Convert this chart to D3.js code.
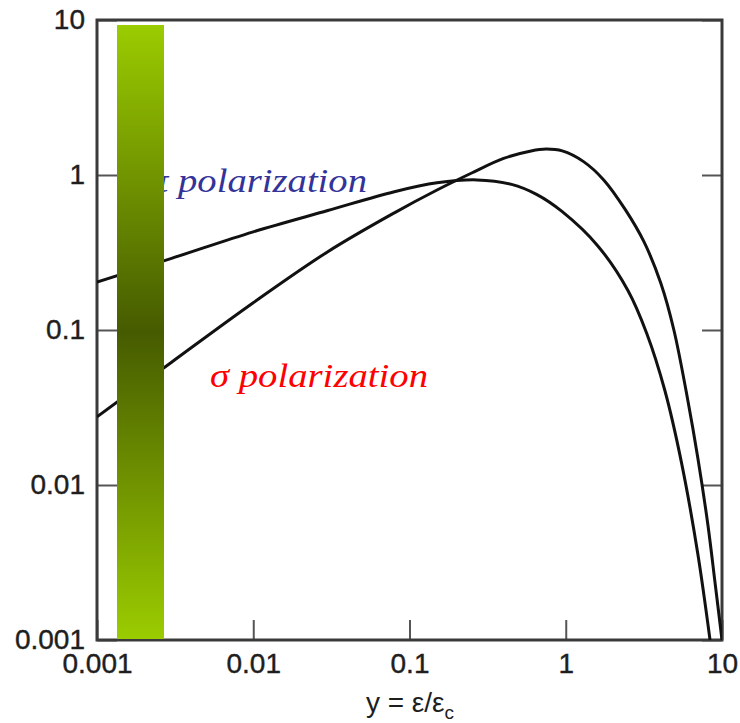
<!DOCTYPE html>
<html>
<head>
<meta charset="utf-8">
<script src="https://cdn.jsdelivr.net/npm/d3@7"></script>
<style>
  html, body { margin: 0; padding: 0; background: #fff; }
  svg { display: block; }
</style>
</head>
<body>
<svg id="chart" width="740" height="723"></svg>
<script>
// Photon energy y = ε/εc and the two polarization spectra (log-log)
const piX   = [0.001, 0.003, 0.01, 0.03, 0.08, 0.15, 0.27, 0.45, 0.65, 0.95, 1.6, 2.5, 3.3, 4.3, 5.5, 7, 8.5];
const piY   = [0.204, 0.29, 0.43, 0.59, 0.78, 0.89, 0.93, 0.87, 0.75, 0.58, 0.35, 0.18, 0.095, 0.041, 0.014, 0.0036, 0.0009];

const sigmaX = [0.001, 0.003, 0.01, 0.03, 0.08, 0.15, 0.25, 0.4, 0.6, 0.75, 0.95, 1.3, 1.75, 2.4, 3.17, 4.06, 4.92, 6.05, 7, 8.13, 9, 10];
const sigmaY = [0.0275, 0.062, 0.15, 0.32, 0.57, 0.80, 1.03, 1.28, 1.43, 1.47, 1.43, 1.22, 0.93, 0.60, 0.37, 0.20, 0.10, 0.035, 0.015, 0.0055, 0.0024, 0.001];

const tickValues = [0.001, 0.01, 0.1, 1, 10];
const tickLabels = ["0.001", "0.01", "0.1", "1", "10"];

const svg = d3.select("#chart");
const plot = { left: 97, right: 722, top: 20, bottom: 640 };

const x = d3.scaleLog().domain([0.001, 10]).range([plot.left, plot.right]);
const y = d3.scaleLog().domain([0.001, 10]).range([plot.bottom, plot.top]);

const fmt = (d) => tickLabels[tickValues.indexOf(d)];

// Axes with inward ticks
const gx = svg.append("g")
  .attr("transform", `translate(0,${plot.bottom})`)
  .call(d3.axisBottom(x).tickValues(tickValues).tickFormat(fmt)
    .tickSizeInner(-20).tickSizeOuter(0).tickPadding(13));

const gy = svg.append("g")
  .attr("transform", `translate(${plot.left},0)`)
  .call(d3.axisLeft(y).tickValues(tickValues).tickFormat(fmt)
    .tickSizeInner(-20).tickSizeOuter(0).tickPadding(12));

const gr = svg.append("g")
  .attr("transform", `translate(${plot.right},0)`)
  .call(d3.axisRight(y).tickValues(tickValues).tickFormat(() => "")
    .tickSizeInner(-20).tickSizeOuter(0));

[gx, gy, gr].forEach(g => {
  g.select(".domain").remove();
  g.selectAll(".tick line").attr("stroke", "#555").attr("stroke-width", 2);
  g.selectAll(".tick text")
    .attr("font-family", "'Liberation Sans', Arial, sans-serif")
    .attr("font-size", 28)
    .attr("fill", "#1e1e1e")
    .attr("stroke", "#1e1e1e").attr("stroke-width", 0.4);
});

// Plot frame
svg.append("rect")
  .attr("x", plot.left).attr("y", plot.top)
  .attr("width", plot.right - plot.left).attr("height", plot.bottom - plot.top)
  .attr("fill", "none").attr("stroke", "#3a3a3a").attr("stroke-width", 3);

// Axis title
const title = svg.append("text")
  .attr("x", 410).attr("y", 712)
  .attr("text-anchor", "middle")
  .attr("font-family", "'Liberation Sans', Arial, sans-serif")
  .attr("font-size", 28)
  .attr("fill", "#1e1e1e");
title.append("tspan").text("y = ε/ε");
title.append("tspan").attr("font-size", 19).attr("dy", 7).text("c");

// Curves
svg.append("clipPath").attr("id", "plotclip")
  .append("rect")
  .attr("x", plot.left).attr("y", plot.top)
  .attr("width", plot.right - plot.left).attr("height", plot.bottom - plot.top);

const line = d3.line()
  .x(d => x(d[0])).y(d => y(d[1]))
  .curve(d3.curveCatmullRom.alpha(0.5));

const curves = svg.append("g").attr("clip-path", "url(#plotclip)");
curves.append("path")
  .attr("d", line(d3.zip(piX, piY)))
  .attr("fill", "none").attr("stroke", "#111").attr("stroke-width", 3);
curves.append("path")
  .attr("d", line(d3.zip(sigmaX, sigmaY)))
  .attr("fill", "none").attr("stroke", "#111").attr("stroke-width", 3);

// Curve labels
svg.append("text")
  .attr("x", 149).attr("y", 192)
  .attr("font-family", "'Liberation Serif', 'Times New Roman', serif")
  .attr("font-style", "italic")
  .attr("font-size", 33)
  .attr("fill", "#333399")
  .attr("textLength", 218).attr("lengthAdjust", "spacingAndGlyphs")
  .text("π polarization");

svg.append("text")
  .attr("x", 210).attr("y", 387)
  .attr("font-family", "'Liberation Serif', 'Times New Roman', serif")
  .attr("font-style", "italic")
  .attr("font-size", 33)
  .attr("fill", "#ff0000")
  .attr("textLength", 218).attr("lengthAdjust", "spacingAndGlyphs")
  .text("σ polarization");

// Vertical gradient bar
const grad = svg.append("defs").append("linearGradient")
  .attr("id", "barGrad").attr("x1", 0).attr("y1", 0).attr("x2", 0).attr("y2", 1);
grad.append("stop").attr("offset", "0%").attr("stop-color", "#9bcc00");
grad.append("stop").attr("offset", "50%").attr("stop-color", "#465b00");
grad.append("stop").attr("offset", "100%").attr("stop-color", "#9bcc00");

svg.append("rect")
  .attr("x", 117).attr("y", 25)
  .attr("width", 47).attr("height", 614)
  .attr("fill", "url(#barGrad)");
</script>
</body>
</html>
